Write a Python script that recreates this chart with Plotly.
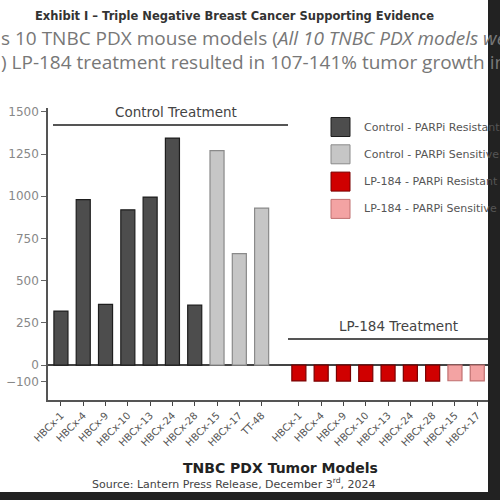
import plotly.graph_objects as go

# data
models = ['HBCx-1', 'HBCx-4', 'HBCx-9', 'HBCx-10', 'HBCx-13', 'HBCx-24', 'HBCx-28', 'HBCx-15', 'HBCx-17', 'TT-48']
control_vals = [320, 980, 360, 920, 995, 1345, 355, 1270, 660, 930]
lp184_vals = [-94, -95, -95, -97, -95, -95, -95, -93, -94, -94]
parpi_status = ['Resistant'] * 7 + ['Sensitive'] * 3

legend_names = ['Control - PARPi Resistant', 'Control - PARPi Sensitive',
                'LP-184 - PARPi Resistant', 'LP-184 - PARPi Sensitive']
colors = {'Control - PARPi Resistant': '#4d4d4d', 'Control - PARPi Sensitive': '#c6c6c6',
          'LP-184 - PARPi Resistant': '#d00000', 'LP-184 - PARPi Sensitive': '#f3a3a3'}
outlines = {'Control - PARPi Resistant': '#1e1e1e', 'Control - PARPi Sensitive': '#8a8a8a',
            'LP-184 - PARPi Resistant': '#7a0000', 'LP-184 - PARPi Sensitive': '#c07070'}

y_ticks = [-100, 0, 250, 500, 750, 1000, 1250, 1500]

# pixel helpers (plot area 48..500 x 108..400)
L, R, T, B = 48, 500, 108, 400


def px(x):
    return (x - L) / (R - L)


def py(y):
    return (B - y) / (B - T)


def note(text, x, y, size, color='#555', anchor='center', family=None):
    f = dict(size=size, color=color)
    if family:
        f['family'] = family
    return dict(text=text, xref='paper', yref='paper', x=px(x), y=py(y), xanchor=anchor,
                yanchor='middle', showarrow=False, font=f)


gap = 10.67
x_ctrl = list(range(len(models)))
x_lp = [gap + i for i in range(len(models))]

fig = go.Figure()
for grp, xs, vals in [('Control', x_ctrl, control_vals), ('LP-184', x_lp, lp184_vals)]:
    for status in ['Resistant', 'Sensitive']:
        name = f'{grp} - PARPi {status}'
        idx = [i for i, s in enumerate(parpi_status) if s == status]
        fig.add_trace(go.Bar(
            x=[xs[i] for i in idx], y=[vals[i] for i in idx], name=name,
            width=0.63, showlegend=False,
            marker=dict(color=colors[name], line=dict(color=outlines[name], width=1.2)),
        ))

fig.update_layout(
    width=500, height=500,
    margin=dict(l=L, r=500 - R, t=T, b=500 - B, autoexpand=False),
    plot_bgcolor='white', paper_bgcolor='white',
    font=dict(family='DejaVu Sans', color='#555'),
    barmode='overlay',
)
fig.update_xaxes(
    range=[-0.58, 19.69], tickvals=x_ctrl + x_lp, ticktext=models + models,
    tickangle=-45, tickfont=dict(size=10, color='#555'), automargin=False,
    showline=True, linecolor='#555', linewidth=1.5, ticks='outside', ticklen=4,
    tickcolor='#444', showgrid=False, zeroline=False,
)
fig.update_yaxes(
    range=[-207, 1523], tickvals=y_ticks, tickfont=dict(size=12, color='#888'), automargin=False,
    showline=True, linecolor='#555', linewidth=1.5, ticks='outside', ticklen=5,
    tickcolor='#666', showgrid=False, zeroline=True, zerolinecolor='#444', zerolinewidth=1.5,
)

shapes = []
annotations = []

# group brackets
shapes.append(dict(type='line', xref='paper', yref='paper', x0=px(53), x1=px(288), y0=py(125), y1=py(125),
                   line=dict(color='#555', width=2)))
annotations.append(note('Control Treatment', 176, 112, 13.5, '#444'))
shapes.append(dict(type='line', xref='paper', yref='paper', x0=px(288), x1=px(520), y0=py(339), y1=py(339),
                   line=dict(color='#555', width=2)))
annotations.append(note('LP-184 Treatment', 398, 326, 13.5, '#444'))

# legend
for k, name in enumerate(legend_names):
    cy = 127 + k * 27.3
    shapes.append(dict(type='rect', xref='paper', yref='paper', x0=px(331), x1=px(350),
                       y0=py(cy - 9.5), y1=py(cy + 9.5), fillcolor=colors[name],
                       line=dict(color=outlines[name], width=1)))
    annotations.append(note(name, 362, cy, 11, '#555', anchor='left'))

# titles
annotations.append(note('<b>Exhibit I – Triple Negative Breast Cancer Supporting Evidence</b>',
                        234, 16, 11.5, '#333'))
annotations.append(note('s 10 TNBC PDX mouse models (<i>All 10 TNBC PDX models were PARPi</i>',
                        -1, 38, 19, '#777', anchor='left', family='Open Sans'))
annotations.append(note(') LP-184 treatment resulted in 107-141% tumor growth inhibition',
                        -1, 62, 19, '#777', anchor='left', family='Open Sans'))
annotations.append(note('<b>TNBC PDX Tumor Models</b>', 280, 468, 14, '#222'))
annotations.append(note('Source: Lantern Press Release, December 3<sup>rd</sup>, 2024', 234, 483, 11, '#444'))

# frame edges of the screenshot
shapes.append(dict(type='rect', xref='paper', yref='paper', x0=px(488), x1=px(500), y0=py(0), y1=py(500),
                   fillcolor='#222', line=dict(width=0), layer='above'))
shapes.append(dict(type='rect', xref='paper', yref='paper', x0=px(0), x1=px(500), y0=py(492), y1=py(500),
                   fillcolor='#222', line=dict(width=0), layer='above'))

fig.update_layout(shapes=shapes, annotations=annotations)
fig.write_html('out.html', config={'displayModeBar': False},
               post_script="document.body.style.margin='0';"
                           "document.body.style.overflow='hidden';"
                           "document.documentElement.style.overflow='hidden';")
